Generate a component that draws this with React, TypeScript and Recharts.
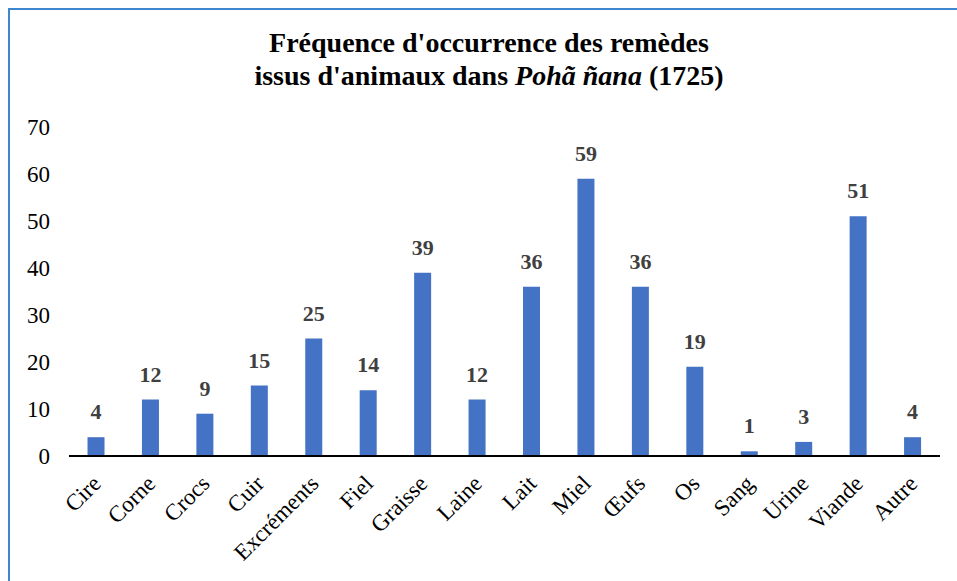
import { BarChart, Bar, XAxis, YAxis, LabelList } from 'recharts';

const categories = ['Cire', 'Corne', 'Crocs', 'Cuir', 'Excréments', 'Fiel', 'Graisse', 'Laine', 'Lait', 'Miel', 'Œufs', 'Os', 'Sang', 'Urine', 'Viande', 'Autre'];
const occurrences = [4, 12, 9, 15, 25, 14, 39, 12, 36, 59, 36, 19, 1, 3, 51, 4];
const yTicks = [0, 10, 20, 30, 40, 50, 60, 70];

const data = categories.map((name, i) => ({ name, value: occurrences[i] }));

const FONT = '"Liberation Serif", "Times New Roman", serif';

// libellés de l'axe X inclinés à -45°
function SlantTick(props: any) {
  const { x, y, payload } = props;
  const px = x + 6;
  const py = y + 21;
  return (
    <text
      x={px}
      y={py}
      transform={`rotate(-45, ${px}, ${py})`}
      textAnchor="end"
      fontFamily={FONT}
      fontSize={23}
      fill="#000"
    >
      {payload.value}
    </text>
  );
}

export default function App() {
  return (
    <div style={{ position: 'absolute', left: 0, top: 0, width: 957, height: 581, background: '#fff', overflow: 'hidden' }}>
      <div
        style={{
          position: 'absolute',
          left: 8,
          top: 8,
          width: 960,
          height: 600,
          borderLeft: '2px solid #3E86CF',
          borderTop: '2px solid #3E86CF',
        }}
      />
      <div
        style={{
          position: 'absolute',
          left: 0,
          top: 26,
          width: 978,
          textAlign: 'center',
          fontFamily: FONT,
          fontWeight: 'bold',
          fontSize: 28,
          lineHeight: '33px',
          color: '#000',
        }}
      >
        Fréquence d'occurrence des remèdes
        <br />
        issus d'animaux dans <i>Poha&#771; ñana</i> (1725)
      </div>
      <div style={{ position: 'absolute', left: 0, top: 0 }}>
        <BarChart
          width={957}
          height={581}
          data={data}
          margin={{ top: 127, right: 17, left: 0, bottom: 0 }}
          barCategoryGap="34%"
        >
          <XAxis
            dataKey="name"
            interval={0}
            height={125}
            tickLine={false}
            axisLine={{ stroke: '#000', strokeWidth: 2 }}
            tick={<SlantTick />}
          />
          <YAxis
            width={69}
            domain={[0, 70]}
            ticks={yTicks}
            axisLine={false}
            tickLine={false}
            tickSize={0}
            tickMargin={19}
            tick={{ fontFamily: FONT, fontSize: 23, fill: '#000' }}
          />
          <Bar dataKey="value" fill="#4472C4" isAnimationActive={false}>
            <LabelList
              dataKey="value"
              position="top"
              offset={18}
              fill="#404040"
              fontFamily={FONT}
              fontWeight="bold"
              fontSize={22}
            />
          </Bar>
        </BarChart>
      </div>
    </div>
  );
}
